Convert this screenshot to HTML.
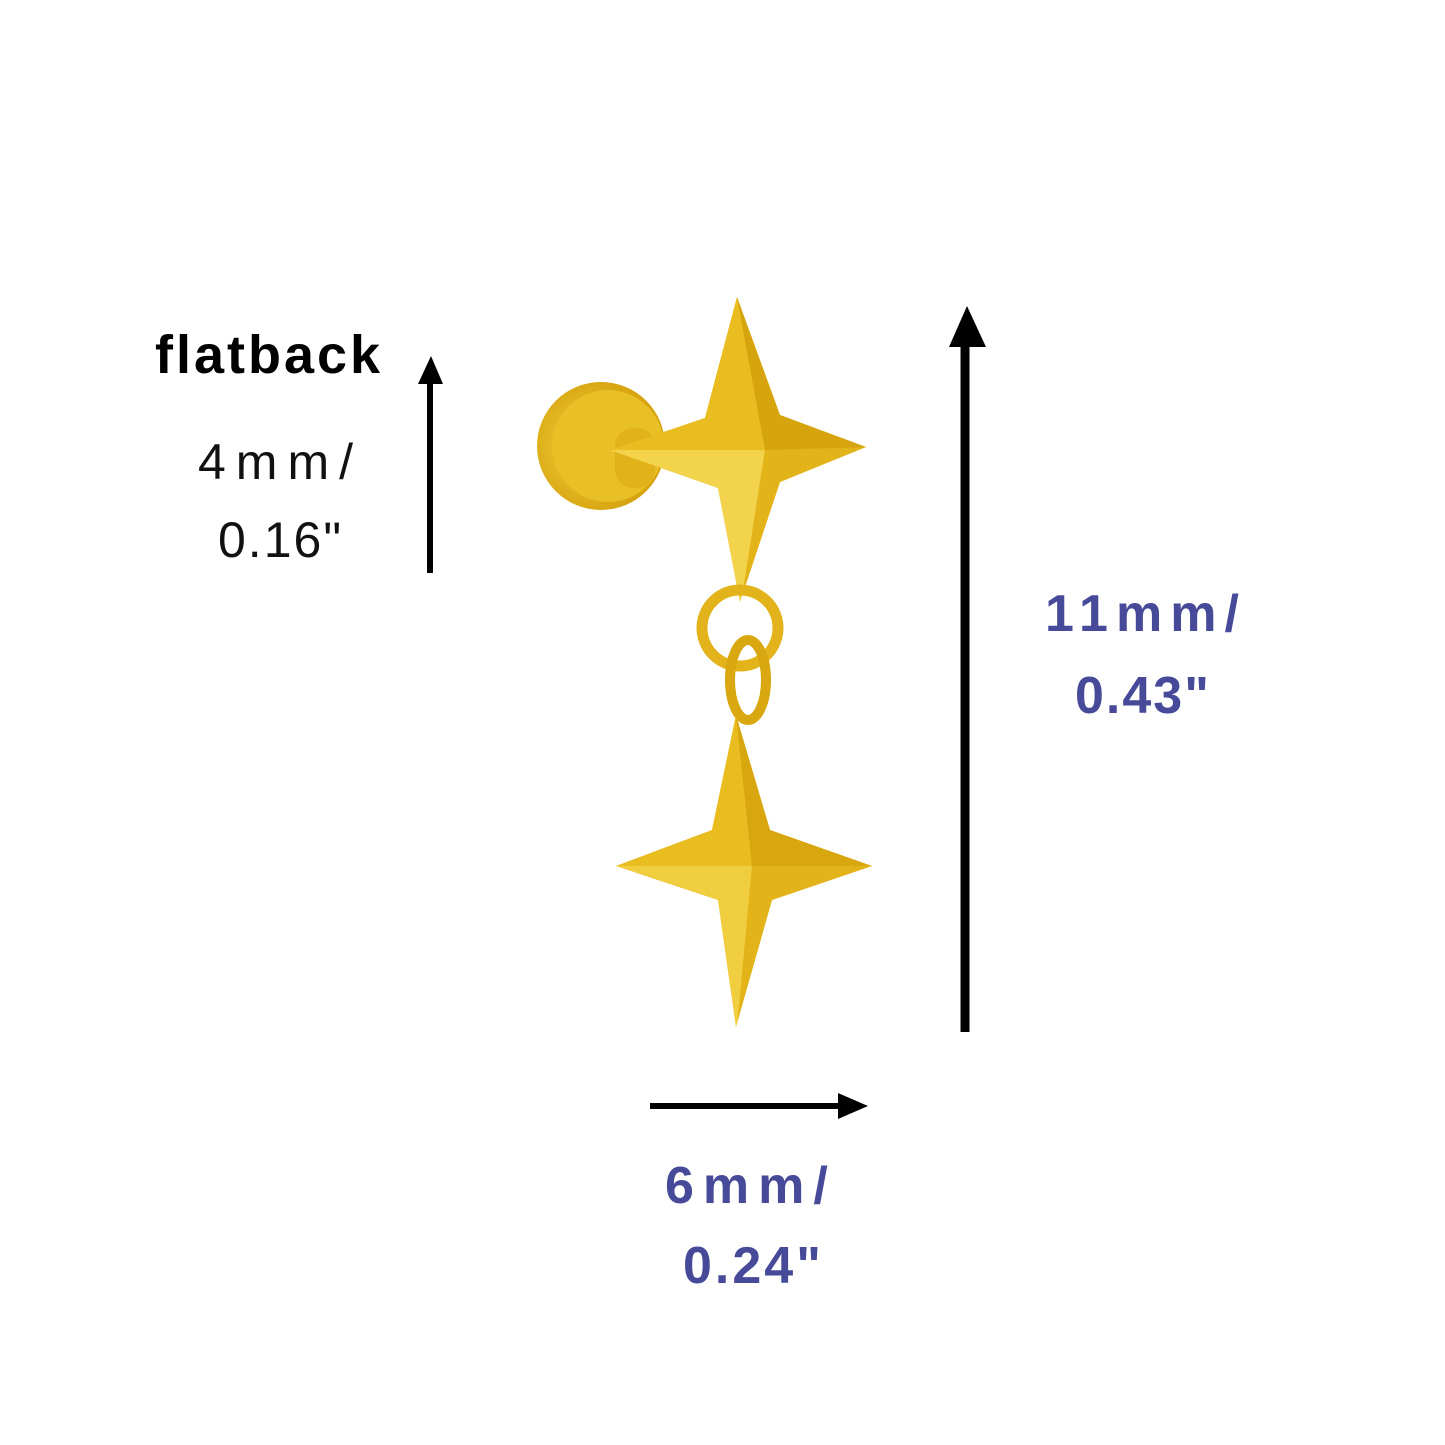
<!DOCTYPE html>
<html><head><meta charset="utf-8"><style>
html,body{margin:0;padding:0;background:#fff;}
body{width:1445px;height:1445px;position:relative;overflow:hidden;font-family:"Liberation Sans",sans-serif;}
.t{position:absolute;white-space:nowrap;line-height:1;}
</style></head><body>
<svg width="1445" height="1445" style="position:absolute;left:0;top:0">
<defs>
<radialGradient id="g2" cx="0.4" cy="0.5" r="0.6"><stop offset="0" stop-color="#f0cf3a"/><stop offset="1" stop-color="#d4a00c"/></radialGradient>
<clipPath id="c1"><path d="M737,297 L780,415 L866,447 L780,482 L740,602 L718,488 L610,450 L705,418Z"/></clipPath>
<clipPath id="c2"><path d="M736,715 L770,830 L872,866 L772,900 L736,1027 L718,900 L616,866 L712,830Z"/></clipPath>
</defs>
<!-- disc -->
<circle cx="601" cy="446" r="64" fill="url(#g2)"/>
<circle cx="608" cy="446" r="56" fill="#e8bf24"/>
<rect x="615" y="428" width="40" height="60" rx="18" fill="#e2b21a"/>
<!-- top star -->
<g clip-path="url(#c1)">
<rect x="600" y="290" width="280" height="320" fill="#e6b61c"/>
<polygon points="737,297 765,450 600,450 600,290" fill="#e9bd1f"/>
<polygon points="737,297 765,450 880,447 880,290" fill="#d6a40d"/>
<polygon points="600,450 765,450 740,610 600,610" fill="#f3d24c"/>
<polygon points="880,447 765,450 740,610 880,610" fill="#e3b41a"/>
</g>
<!-- rings -->
<circle cx="740" cy="628" r="38" fill="none" stroke="#e2b31a" stroke-width="11"/>
<ellipse cx="748" cy="680" rx="18" ry="40" fill="none" stroke="#d9a710" stroke-width="10"/>
<!-- bottom star -->
<g clip-path="url(#c2)">
<rect x="600" y="700" width="290" height="340" fill="#e3b41a"/>
<polygon points="736,715 752,866 600,866 600,700" fill="#e9bd1f"/>
<polygon points="736,715 752,866 890,866 890,700" fill="#d8a60f"/>
<polygon points="600,866 752,866 736,1040 600,1040" fill="#f1cd40"/>
<polygon points="890,866 752,866 736,1040 890,1040" fill="#e3b41a"/>
</g>
<!-- arrows -->
<line x1="430" y1="573" x2="430" y2="380" stroke="#000" stroke-width="6"/>
<polygon points="418,384 443,384 431,356" fill="#000"/>
<line x1="965" y1="1032" x2="965" y2="340" stroke="#000" stroke-width="9"/>
<polygon points="949,347 986,347 967,306" fill="#000"/>
<line x1="650" y1="1106" x2="840" y2="1106" stroke="#000" stroke-width="6"/>
<polygon points="838,1093 838,1119 868,1106" fill="#000"/>
</svg>
<div class="t" style="left:155px;top:328px;font-size:54px;font-weight:bold;color:#000;letter-spacing:3px">flatback</div>
<div class="t" style="left:198px;top:437px;font-size:50px;color:#111;letter-spacing:10px">4mm/</div>
<div class="t" style="left:218px;top:515px;font-size:50px;color:#111;letter-spacing:2px">0.16"</div>
<div class="t" style="left:1045px;top:588px;font-size:52px;font-weight:bold;color:#474a98;letter-spacing:8px">11mm/</div>
<div class="t" style="left:1075px;top:670px;font-size:52px;font-weight:bold;color:#474a98;letter-spacing:2px">0.43"</div>
<div class="t" style="left:665px;top:1160px;font-size:52px;font-weight:bold;color:#474a98;letter-spacing:9px">6mm/</div>
<div class="t" style="left:683px;top:1240px;font-size:52px;font-weight:bold;color:#474a98;letter-spacing:3px">0.24"</div>
</body></html>
